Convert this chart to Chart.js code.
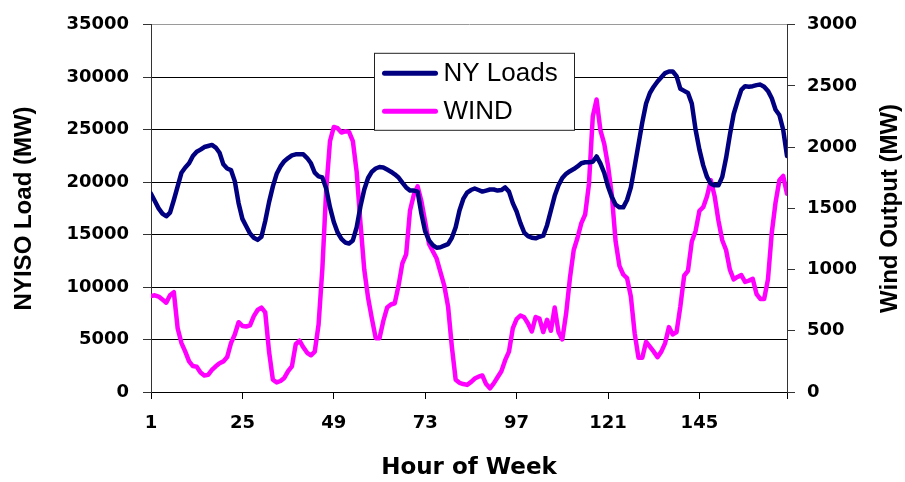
<!DOCTYPE html>
<html>
<head>
<meta charset="utf-8">
<title>NY Loads vs Wind</title>
<script src="https://cdn.jsdelivr.net/npm/chart.js@4.4.1/dist/chart.umd.min.js"></script>
<style>
  html, body { margin: 0; padding: 0; background: #fff; }
  #wrap { width: 905px; height: 482px; }
</style>
</head>
<body>
<div id="wrap"><canvas id="chart" width="905" height="482"></canvas></div>
<script>
// hour of week, 1..168
const hours = Array.from({ length: 168 }, (_, i) => i + 1);
const xTickValues = [1, 25, 49, 73, 97, 121, 145, 168];

// NYISO load (MW)
const loadMW = [
  18900, 18200, 17500, 17000, 16750, 17100, 18300, 19600, 20900, 21400, 21800, 22500,
  22900, 23100, 23350, 23450, 23550, 23300, 22800, 21700, 21300, 21150, 20100, 18000,
  16500, 15800, 15100, 14700, 14500, 14800, 16300, 18100, 19600, 20800, 21500, 22000,
  22300, 22550, 22650, 22650, 22650, 22300, 21800, 20900, 20550, 20450, 19400, 17600,
  16200, 15200, 14600, 14250, 14150, 14450, 15700, 17700, 19300, 20400, 21000, 21300,
  21450, 21400, 21200, 21000, 20750, 20450, 19950, 19500, 19200, 19200, 19100, 17000,
  15300, 14450, 14000, 13750, 13800, 13950, 14100, 14700, 15700, 17300, 18400, 19000,
  19250, 19400, 19250, 19100, 19200, 19300, 19300, 19200, 19250, 19500, 19100, 18000,
  17200, 16100, 15200, 14850, 14700, 14650, 14800, 14900, 15900, 17300, 18700, 19700,
  20400, 20800, 21050, 21250, 21500, 21800, 21900, 21900, 21950, 22450, 21800, 20900,
  19600, 18600, 17850, 17600, 17600, 18300, 19500, 21500, 23600, 25700, 27500, 28500,
  29100, 29600, 30000, 30400, 30550, 30550, 30100, 28900, 28700, 28500, 27500, 25000,
  23100, 21600, 20500, 19850, 19700, 19700, 20500, 22300, 24500, 26500, 27700, 28800,
  29150, 29100, 29150, 29250, 29300, 29100, 28700, 28000, 26900, 26400, 25000, 22500
];

// wind output (MW)
const windMW = [
  785, 790, 780, 755, 730, 790, 815, 520, 400, 330, 250, 212,
  207, 160, 135, 140, 180, 210, 235, 250, 285, 400, 470, 570,
  540, 535, 545, 620, 670, 690, 650, 330, 100, 78, 90, 115,
  170, 210, 390, 419, 365, 320, 300, 330, 550, 1010, 1650, 2050,
  2165, 2155, 2120, 2130, 2125, 2050, 1800, 1380, 1000, 770, 600, 440,
  440, 580, 690, 715, 725, 870, 1050, 1125, 1480, 1610, 1680, 1560,
  1390, 1210, 1150, 1090, 980, 870, 700, 370, 100, 75, 65, 58,
  80, 110, 125, 135, 65, 30, 70, 120, 170, 260, 330, 520,
  595, 625, 610, 560, 495, 613, 600, 490, 590, 500, 690, 490,
  430, 640, 930, 1160, 1260, 1380, 1450, 1700, 2250, 2390, 2140, 2030,
  1850, 1610, 1230, 1030, 960, 930, 780, 480, 280, 280, 410, 370,
  330, 285, 330, 400, 530, 470, 490, 700, 950, 990, 1230, 1316,
  1480, 1510, 1600, 1730, 1600, 1400, 1240, 1160, 1000, 920, 940, 955,
  900, 910, 925, 800, 760, 760, 920, 1300, 1550, 1730, 1765, 1620
];

const seriesNames = ['NY Loads', 'WIND'];
const seriesColors = ['#000080', '#FF00FF'];

const tickFont = { family: 'DejaVu Sans', size: 18, weight: 'bold' };
const arialBold = { family: 'Liberation Sans, Arial', size: 24, weight: 'bold' };
const plainNumber = (v) => String(v); // no thousands separators

// Excel-style legend box sitting inside the plot
const legendBox = {
  id: 'legendBox',
  afterDatasetsDraw(chart) {
    const { ctx, chartArea } = chart;
    const left = chartArea.left + 223.5;
    const top = chartArea.top + 28.5;
    ctx.save();
    ctx.fillStyle = '#fff';
    ctx.strokeStyle = '#222';
    ctx.lineWidth = 1;
    ctx.fillRect(left, top, 200, 77);
    ctx.strokeRect(left, top, 200, 77);
    ctx.font = '26px "Liberation Sans", Arial';
    ctx.textBaseline = 'middle';
    ctx.textAlign = 'left';
    chart.data.datasets.forEach((ds, i) => {
      const y = top + 20 + i * 38;
      ctx.strokeStyle = ds.borderColor;
      ctx.lineWidth = 5;
      ctx.lineCap = 'round';
      ctx.beginPath();
      ctx.moveTo(left + 10, y);
      ctx.lineTo(left + 61, y);
      ctx.stroke();
      ctx.fillStyle = '#000';
      ctx.fillText(ds.label, left + 69, y + 1);
    });
    ctx.restore();
  }
};

// right axis title reads bottom-to-top like the left one
const rightTitle = {
  id: 'rightTitle',
  afterDraw(chart) {
    const { ctx, chartArea } = chart;
    ctx.save();
    ctx.translate(890, (chartArea.top + chartArea.bottom) / 2);
    ctx.rotate(-Math.PI / 2);
    ctx.font = 'bold 24px "Liberation Sans", Arial';
    ctx.fillStyle = '#000';
    ctx.textAlign = 'center';
    ctx.textBaseline = 'middle';
    ctx.fillText('Wind Output (MW)', 0, 0);
    ctx.restore();
  }
};

const ctx = document.getElementById('chart').getContext('2d');
new Chart(ctx, {
  type: 'line',
  data: {
    datasets: [
      {
        label: seriesNames[0],
        data: hours.map((h, i) => ({ x: h, y: loadMW[i] })),
        yAxisID: 'y',
        borderColor: seriesColors[0],
        borderWidth: 4.5,
        pointRadius: 0,
        tension: 0,
        borderJoinStyle: 'round',
        borderCapStyle: 'round'
      },
      {
        label: seriesNames[1],
        data: hours.map((h, i) => ({ x: h, y: windMW[i] })),
        yAxisID: 'y2',
        borderColor: seriesColors[1],
        borderWidth: 4.5,
        pointRadius: 0,
        tension: 0,
        borderJoinStyle: 'round',
        borderCapStyle: 'round'
      }
    ]
  },
  options: {
    responsive: false,
    animation: false,
    devicePixelRatio: 1,
    layout: { padding: { top: 15, left: 0, right: 0, bottom: 0 } },
    plugins: {
      legend: { display: false },
      tooltip: { enabled: false }
    },
    scales: {
      x: {
        type: 'linear',
        min: 1,
        max: 168,
        afterBuildTicks: (scale) => {
          scale.ticks = xTickValues.map(v => ({ value: v }));
        },
        afterFit: (scale) => { scale.height = 90; },
        grid: { drawOnChartArea: false, color: '#000', tickLength: 7 },
        border: { color: '#000', width: 1 },
        ticks: {
          autoSkip: false,
          maxRotation: 0,
          padding: 14,
          color: '#000',
          font: tickFont,
          callback: (v) => (v === 168 ? '' : String(v))
        },
        title: {
          display: true,
          text: 'Hour of Week',
          color: '#000',
          font: { family: 'DejaVu Sans', size: 23, weight: 'bold' },
          padding: { top: 2, bottom: 0 }
        }
      },
      y: {
        position: 'left',
        min: 0,
        max: 35000,
        afterFit: (scale) => { scale.width = 151; },
        grid: {
          color: (c) => (c.tick && c.tick.value === 35000 ? '#9a9a9a' : '#000'),
          tickColor: '#333',
          tickLength: 8
        },
        border: { color: '#333', width: 1 },
        ticks: { stepSize: 5000, padding: 14, color: '#000', font: tickFont, callback: plainNumber },
        title: {
          display: true,
          text: 'NYISO Load (MW)',
          color: '#000',
          font: arialBold,
          padding: { top: 10, bottom: 0 }
        }
      },
      y2: {
        position: 'right',
        min: 0,
        max: 3000,
        afterFit: (scale) => { scale.width = 118; },
        grid: { drawOnChartArea: false, color: '#333', tickLength: 8 },
        border: { color: '#333', width: 1 },
        ticks: { stepSize: 500, padding: 12, color: '#000', font: tickFont, callback: plainNumber }
      }
    }
  },
  plugins: [legendBox, rightTitle]
});
</script>
</body>
</html>
